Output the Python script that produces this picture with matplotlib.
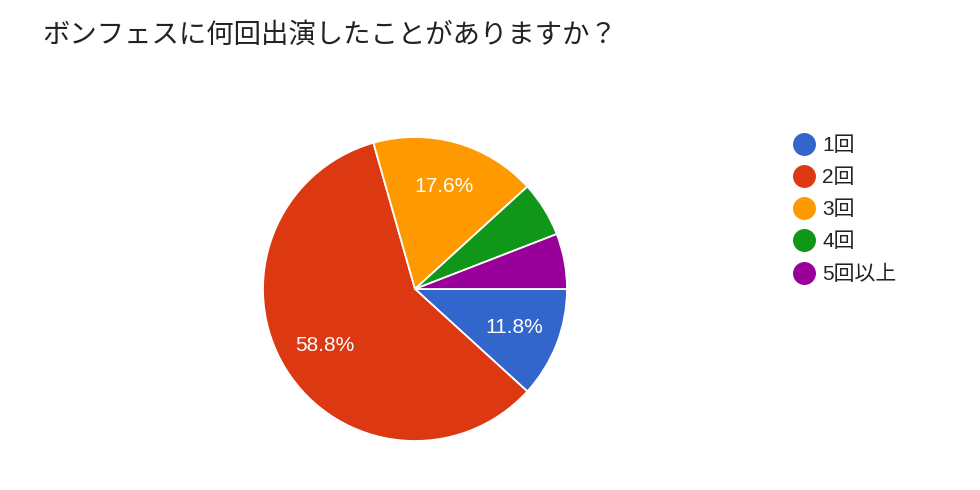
import matplotlib
matplotlib.use("Agg")
import matplotlib.pyplot as plt
from matplotlib.lines import Line2D

title = "ボンフェスに何回出演したことがありますか？"
categories = ["1回", "2回", "3回", "4回", "5回以上"]
counts = [2, 10, 3, 1, 1]
colors = ["#3366cc", "#dc3912", "#ff9900", "#109618", "#990099"]

plt.rcParams['font.family'] = ['Liberation Sans', 'Noto Sans CJK JP', 'DejaVu Sans']

W, H = 980, 490
fig = plt.figure(figsize=(W / 100, H / 100), dpi=100)
fig.patch.set_facecolor("white")

cx, cy, r = 415, 289, 152
ax = fig.add_axes([(cx - r) / W, (H - cy - r) / H, 2 * r / W, 2 * r / H])

def fmt(p):
    return f"{p:.1f}%" if p >= 10 else ""

wedges, texts, autotexts = ax.pie(
    counts, colors=colors, startangle=0, counterclock=False,
    autopct=fmt, pctdistance=0.70,
    wedgeprops=dict(edgecolor="white", linewidth=1.3),
    textprops=dict(color="white", fontsize=15))
ax.set_xlim(-1.0, 1.0)
ax.set_ylim(-1.0, 1.0)
ax.set_aspect("equal")
ax.axis("off")

fig.text(42 / W, 1 - 35 / H, title, fontsize=19.7, color="#222222",
         va="center", ha="left", family=['Noto Sans CJK JP', 'DejaVu Sans'])

handles = [Line2D([0], [0], marker="o", linestyle="", markersize=15.5,
                  markerfacecolor=c, markeredgecolor=c) for c in colors]
leg = fig.legend(handles, categories, loc="upper left",
                 bbox_to_anchor=(794 / W, 1 - 136 / H), frameon=False,
                 fontsize=15, handletextpad=0.36, labelspacing=0.63,
                 handlelength=1.0, borderaxespad=0, borderpad=0)
for t in leg.get_texts():
    t.set_color("#222222")
    t.set_family(['Liberation Sans', 'Noto Sans CJK JP'])

fig.savefig("out.png", dpi=100, facecolor="white")
